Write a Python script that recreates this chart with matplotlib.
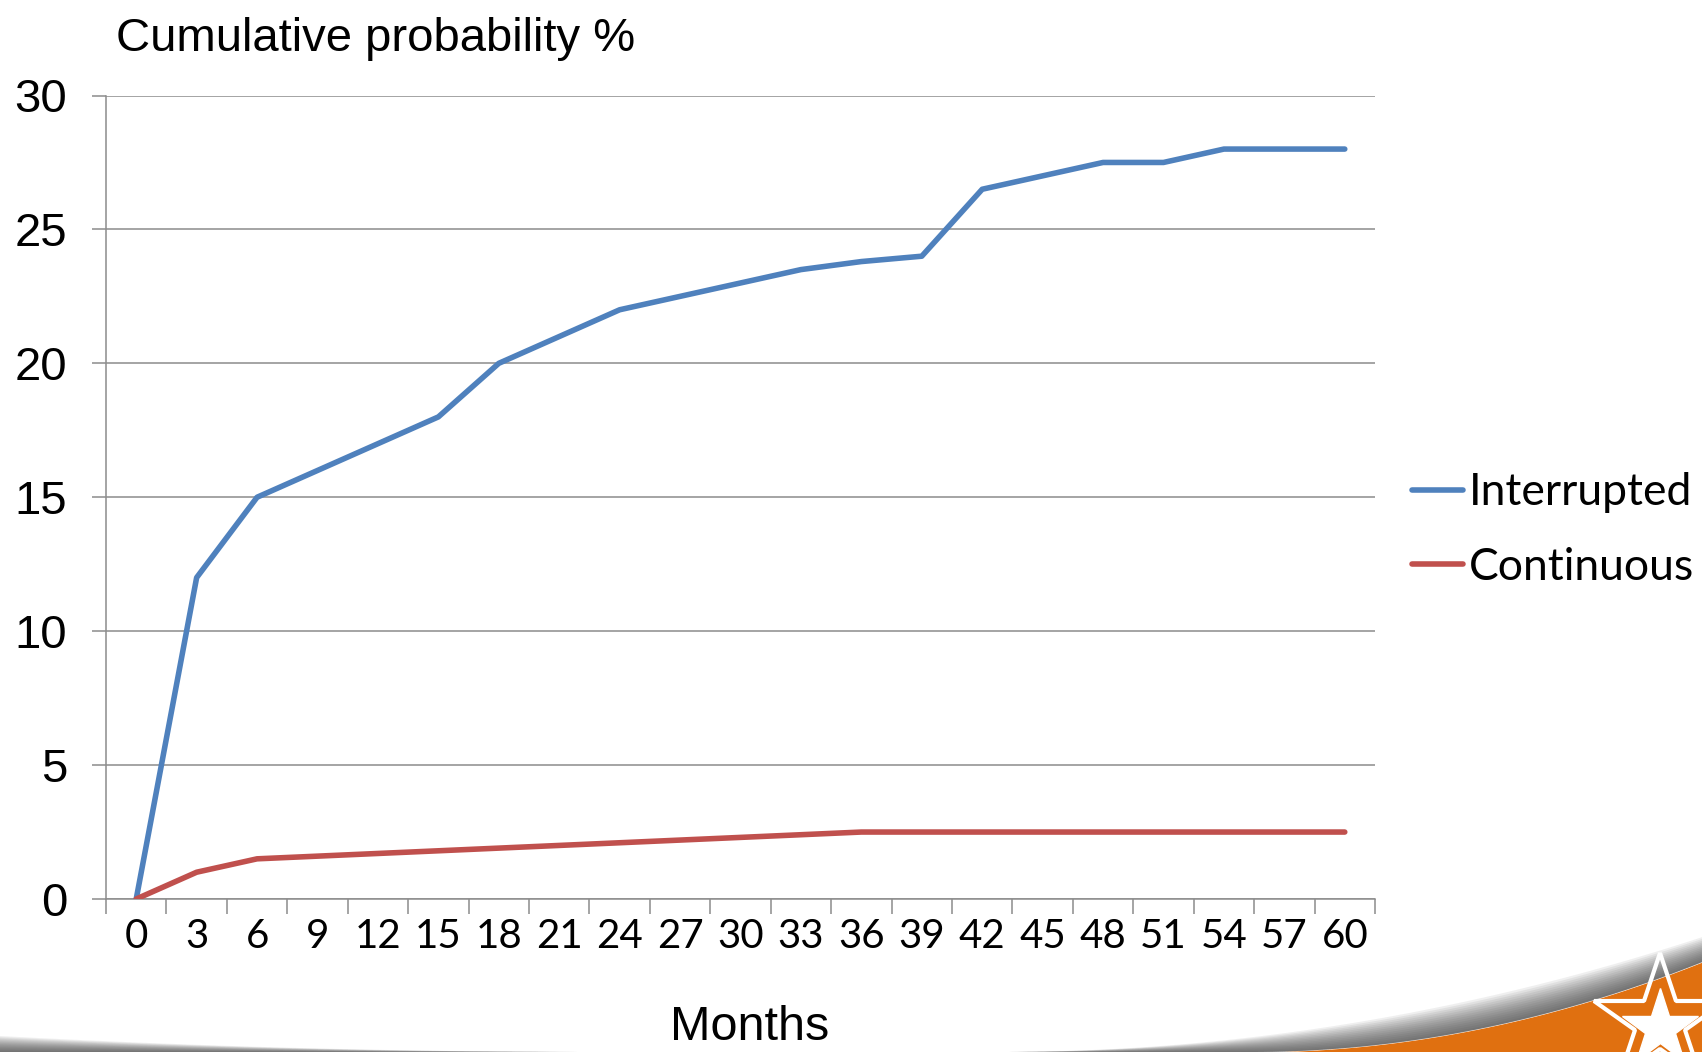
import matplotlib
matplotlib.use("Agg")
from matplotlib import pyplot as plt
import numpy as np

# Chart data
months = [0, 3, 6, 9, 12, 15, 18, 21, 24, 27, 30, 33, 36, 39, 42, 45, 48, 51, 54, 57, 60]
interrupted = [0, 12, 15, 16, 17, 18, 20, 21, 22, 22.5, 23, 23.5, 23.8, 24,
               26.5, 27, 27.5, 27.5, 28, 28, 28]
continuous = [0, 1, 1.5, 1.6, 1.7, 1.8, 1.9, 2.0, 2.1, 2.2, 2.3, 2.4, 2.5, 2.5,
              2.5, 2.5, 2.5, 2.5, 2.5, 2.5, 2.5]
yticks = [0, 5, 10, 15, 20, 25, 30]

W, H = 1702, 1052
GRAY = "#8c8c8c"
BLUE = "#4f81bd"
RED = "#c0504d"
ARIAL = ["Liberation Sans", "DejaVu Sans"]
CALIBRI = ["Lato", "DejaVu Sans"]

fig = plt.figure(figsize=(W / 100, H / 100), dpi=100)

# Background decoration (slide swoosh + logo), in pixel coordinates
bg = fig.add_axes([0, 0, 1, 1], zorder=0)
bg.set_xlim(0, W)
bg.set_ylim(H, 0)
bg.axis("off")
xs = np.linspace(0, W, 600)
left_part = 1036 + 16 * (1 - (1 - np.clip(xs, 0, 600) / 600) ** 2)
right_part = 1052 - 2.33e-4 * np.clip(xs - 1000, 0, None) ** 2
top_edge = np.where(xs < 1000, left_part, right_part)
top_edge = np.minimum(top_edge, 1052)
orange_top = 1052 - 4.4e-4 * np.clip(xs - 1250, 0, None) ** 2
for i in range(14):
    frac = i / 14
    y1 = top_edge + (orange_top - top_edge) * frac
    bg.fill_between(xs, y1, orange_top, where=y1 < orange_top,
                    color="#3a3a3a", alpha=0.08, lw=0)
bg.fill_between(xs, orange_top, H, where=orange_top < H, color="#e07010", lw=0)
bg.plot([1660], [1028], marker="*", ms=58, color="white", mec="white")
bg.plot([1660], [1022], marker="*", ms=100, mfc="none", mec="white", mew=3)

# Main chart
ax = fig.add_axes([106 / W, 1 - 899 / H, (1375 - 106) / W, (899 - 95.5) / H], zorder=1)
ax.patch.set_alpha(0)
x = np.arange(len(months))
ax.plot(x, interrupted, color=BLUE, lw=4.0, solid_capstyle="round",
        solid_joinstyle="round", label="Interrupted", zorder=3)
ax.plot(x, continuous, color=RED, lw=4.0, solid_capstyle="round",
        solid_joinstyle="round", label="Continuous", zorder=3)

ax.set_xlim(-0.5, len(months) - 0.5)
ax.set_ylim(0, 30)
ax.set_yticks(yticks)
ax.set_yticklabels([str(v) for v in yticks], family=ARIAL, fontsize=34)
ax.set_xticks(x)
ax.set_xticklabels([str(m) for m in months], family=CALIBRI, fontsize=29)
ax.set_xticks(np.arange(-0.5, len(months)), minor=True)
ax.tick_params(axis="x", which="major", length=0, pad=14)
ax.tick_params(axis="x", which="minor", length=11, width=1.1, color=GRAY)
ax.tick_params(axis="y", which="major", length=10, width=1.1, color=GRAY, pad=18)
ax.yaxis.grid(True, color=GRAY, lw=1.1)
ax.set_axisbelow(True)
for s in ["top", "right"]:
    ax.spines[s].set_visible(False)
for s in ["left", "bottom"]:
    ax.spines[s].set_color(GRAY)
    ax.spines[s].set_linewidth(1.1)

fig.text(750 / W, 1 - 1040 / H, "Months", family=ARIAL, fontsize=35,
         va="baseline", ha="center")
fig.text(116 / W, 1 - 51 / H, "Cumulative probability %", family=ARIAL,
         fontsize=34, va="baseline", ha="left")

ax.legend(loc="center left", bbox_to_anchor=(1412 / W, 1 - 530 / H),
          bbox_transform=fig.transFigure, frameon=False, prop={"family": CALIBRI, "size": 32},
          handlelength=1.15, handletextpad=0.12, labelspacing=0.76, borderpad=0,
          borderaxespad=0)

fig.savefig("out.png", dpi=100)
